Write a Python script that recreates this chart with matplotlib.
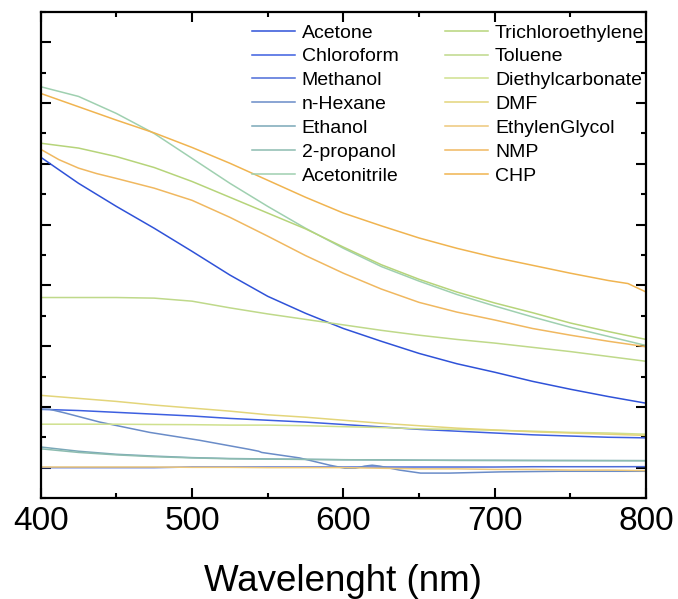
import numpy as np
import matplotlib
matplotlib.use('Agg')
import matplotlib.pyplot as plt
from matplotlib.ticker import MultipleLocator

plt.rcParams['font.family'] = ['Liberation Sans', 'DejaVu Sans']

# wavelengths (nm) shared by the smooth curves
wl = [400, 425, 450, 475, 500, 525, 550, 575, 600, 625, 650, 675, 700, 725, 750, 775, 800]

acetone = [0.511, 0.468, 0.430, 0.394, 0.356, 0.317, 0.282, 0.254, 0.229, 0.208, 0.188,
           0.171, 0.157, 0.142, 0.129, 0.117, 0.106]
chloroform = [0.096, 0.094, 0.091, 0.088, 0.085, 0.081, 0.078, 0.075, 0.071, 0.067, 0.063,
              0.060, 0.057, 0.054, 0.052, 0.050, 0.049]
methanol = [0.000, 0.000, 0.000, 0.000, 0.001, 0.001, 0.001, 0.001, 0.001, 0.001, 0.001,
            0.001, 0.001, 0.0015, 0.0015, 0.0015, 0.0016]
ethanol = [0.034, 0.027, 0.022, 0.019, 0.0165, 0.015, 0.0143, 0.0137, 0.013, 0.0128, 0.0123,
           0.012, 0.012, 0.0118, 0.0117, 0.0116, 0.0115]
propanol = [0.031, 0.025, 0.021, 0.018, 0.016, 0.0145, 0.014, 0.0135, 0.013, 0.0127, 0.0122,
            0.012, 0.0118, 0.0117, 0.0116, 0.0115, 0.0114]
acetonitrile = [0.627, 0.611, 0.583, 0.550, 0.509, 0.468, 0.430, 0.394, 0.361, 0.331, 0.307,
                0.285, 0.266, 0.248, 0.231, 0.216, 0.201]
trichloroethylene = [0.534, 0.526, 0.512, 0.494, 0.471, 0.445, 0.419, 0.393, 0.363, 0.334, 0.310,
                     0.289, 0.271, 0.255, 0.238, 0.224, 0.211]
toluene = [0.280, 0.280, 0.280, 0.279, 0.274, 0.263, 0.253, 0.244, 0.235, 0.226, 0.218,
           0.211, 0.205, 0.198, 0.191, 0.183, 0.175]
diethylcarbonate = [0.0715, 0.0715, 0.0715, 0.071, 0.0707, 0.070, 0.070, 0.069, 0.0674, 0.066, 0.064,
                    0.063, 0.0615, 0.060, 0.058, 0.057, 0.055]
dmf = [0.119, 0.114, 0.109, 0.103, 0.098, 0.093, 0.087, 0.083, 0.078, 0.073, 0.069,
       0.065, 0.062, 0.059, 0.057, 0.055, 0.053]
ethylenglycol = [0.001, 0.001, 0.001, 0.001, 0.0005, 0.0005, 0.0, 0.0, 0.0, -0.001, -0.002,
                 -0.002, -0.003, -0.003, -0.004, -0.004, -0.005]

# curves with more detail
wl_nmp = [400, 412, 425, 437, 450, 475, 500, 525, 550, 575, 600, 625, 650, 675, 700, 725, 750,
          775, 800]
nmp = [0.524, 0.507, 0.493, 0.484, 0.476, 0.460, 0.440, 0.412, 0.381, 0.349, 0.320, 0.294,
       0.272, 0.256, 0.243, 0.229, 0.218, 0.208, 0.199]
wl_chp = [400, 425, 450, 475, 500, 525, 550, 575, 600, 625, 650, 675, 700, 725, 750, 775, 788, 800]
chp = [0.616, 0.594, 0.572, 0.551, 0.527, 0.501, 0.473, 0.445, 0.419, 0.398, 0.378,
       0.361, 0.346, 0.333, 0.320, 0.308, 0.303, 0.289]
wl_hexane = [400, 406, 416, 439, 472, 505, 538, 544, 546, 571, 591, 601, 608, 614, 619, 624,
             631, 637, 651, 670, 704, 743, 800]
hexane = [0.096, 0.096, 0.090, 0.075, 0.058, 0.045, 0.030, 0.027, 0.025, 0.016, 0.004, -0.001,
          -0.001, 0.0025, 0.004, 0.0025, -0.001, -0.004, -0.009, -0.009, -0.007, -0.006, -0.006]

names = ['Acetone', 'Chloroform', 'Methanol', 'n-Hexane', 'Ethanol', '2-propanol', 'Acetonitrile',
         'Trichloroethylene', 'Toluene', 'Diethylcarbonate', 'DMF', 'EthylenGlycol', 'NMP', 'CHP']
colors = ['#2f52d8', '#3d5fe0', '#4d6cd8', '#6a8cc8', '#7aa8b8', '#8dbcb0', '#9fd0b0',
          '#b6d47a', '#bfd98a', '#cfe08e', '#e3d57a', '#eec87a', '#f0b860', '#f0b450']

series = [(wl, acetone), (wl, chloroform), (wl, methanol), (wl_hexane, hexane), (wl, ethanol),
          (wl, propanol), (wl, acetonitrile), (wl, trichloroethylene), (wl, toluene),
          (wl, diethylcarbonate), (wl, dmf), (wl, ethylenglycol), (wl_nmp, nmp), (wl_chp, chp)]

fig = plt.figure(figsize=(6.78, 5.99), dpi=100)
ax = fig.add_axes([0.060, 0.1686, 0.893, 0.8114])

for (x, y), name, c in zip(series, names, colors):
    ax.plot(x, y, color=c, lw=1.1, label=name)

ax.set_xlim(400, 800)
ax.set_ylim(-0.05, 0.75)
ax.xaxis.set_major_locator(MultipleLocator(100))
ax.xaxis.set_minor_locator(MultipleLocator(50))
ax.yaxis.set_major_locator(MultipleLocator(0.1))
ax.yaxis.set_minor_locator(MultipleLocator(0.05))
ax.tick_params(which='both', direction='in', top=True, right=True, width=1.5)
ax.tick_params(which='major', length=7)
ax.tick_params(which='minor', length=3.5)
ax.tick_params(axis='x', labelsize=24, pad=6)
ax.tick_params(axis='y', labelleft=False)
for s in ax.spines.values():
    s.set_linewidth(1.6)

ax.set_xlabel('Wavelenght (nm)', fontsize=26.5, labelpad=19)

ax.legend(ncol=2, frameon=False, fontsize=14, loc='upper left',
          bbox_to_anchor=(252 / 678, 1 - 24 / 599), bbox_transform=fig.transFigure,
          borderpad=0, borderaxespad=0, labelspacing=0.32, handlelength=2.2,
          handletextpad=0.36, columnspacing=2.4)

fig.savefig('out.png', dpi=100)
